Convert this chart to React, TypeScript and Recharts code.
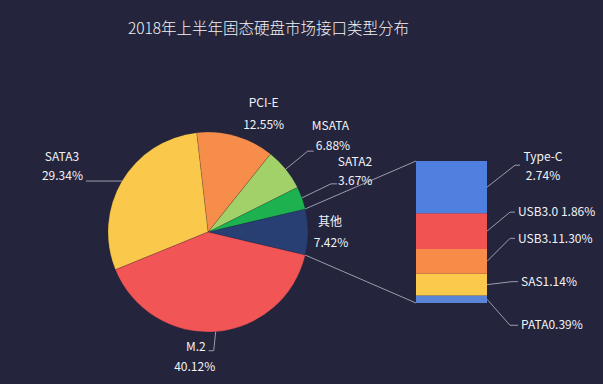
import { PieChart, Pie, Cell, BarChart, Bar, XAxis, YAxis } from 'recharts';

// main pie
const pieNames = ['其他', 'SATA2', 'MSATA', 'PCI-E', 'SATA3', 'M.2'];
const pieValues = [7.42, 3.67, 6.88, 12.55, 29.34, 40.12];
const pieColors = ['#283f74', '#1db24f', '#a2d169', '#f78d4a', '#fac84b', '#f15555'];

// breakdown of 其他
const barNames = ['Type-C', 'USB3.0', 'USB3.1', 'SAS', 'PATA'];
const barValues = [2.74, 1.86, 1.3, 1.14, 0.39];
const barColors = ['#4f7fdf', '#f15353', '#f78b47', '#fbc94b', '#5a84d8'];
const barSeparators = ['\n', ' ', '', '', ''];

const BG = '#24253c';
const TEXT = '#f2f2f6';
const LINE = '#9a9cad';
const FONT = '"Noto Sans CJK SC", "Noto Sans", sans-serif';

const pieData = pieNames.map((name, i) => ({ name, value: pieValues[i] }));
const barRow: Record<string, number | string> = { name: '其他' };
barNames.forEach((n, i) => (barRow[n] = barValues[i]));
const barTotal = barValues.reduce((a, b) => a + b, 0);

const PIE_CX = 208;
const PIE_CY = 232;
const PIE_R = 100;
const otherShare = pieValues[0] / pieValues.reduce((a, b) => a + b, 0);
const START = -otherShare * 180;

// bar box
const BAR_LEFT = 400;
const BAR_TOP = 140;
const BAR_W = 203;
const BAR_H = 200;
const BAR_MARGIN = { top: 21, right: 116, bottom: 37, left: 16 };
const plotX = BAR_LEFT + BAR_MARGIN.left;
const plotTop = BAR_TOP + BAR_MARGIN.top;
const plotBottom = BAR_TOP + BAR_H - BAR_MARGIN.bottom;

type Anchor = 'start' | 'middle' | 'end';
// offsets relative to the slice's outer mid point
const pieLabelLayout: Record<string, { line?: number[][]; name: [number, number, Anchor]; pct: [number, number, Anchor] }> = {
  '其他': { name: [22, -10, 'middle'], pct: [23, 11, 'middle'] },
  SATA2: { line: [[29, -14], [35, -14]], name: [53, -36, 'middle'], pct: [36, -17, 'start'] },
  MSATA: { line: [[22, -18], [28, -18]], name: [26, -43, 'start'], pct: [30, -23, 'start'] },
  'PCI-E': { name: [28, -33, 'middle'], pct: [28, -11, 'middle'] },
  SATA3: { line: [[-36, 0]], name: [-60, -24, 'middle'], pct: [-39, -5, 'end'] },
  'M.2': { line: [[-2, 19], [-7, 19]], name: [-10, 15, 'end'], pct: [-21, 35, 'middle'] },
};

const rad = Math.PI / 180;

const renderPieLabel = (props: any) => {
  const { cx, cy, midAngle, outerRadius, name, value, percent } = props;
  const lay = pieLabelLayout[name];
  const px = cx + outerRadius * Math.cos(-midAngle * rad);
  const py = cy + outerRadius * Math.sin(-midAngle * rad);
  const pts = [[px, py], ...(lay.line || []).map(([dx, dy]) => [px + dx, py + dy])];
  const extra: any[] = [];
  if (name === pieNames[0]) {
    const half = percent * 180;
    const a1 = midAngle + half;
    const a2 = midAngle - half;
    const t = [cx + outerRadius * Math.cos(-a1 * rad), cy + outerRadius * Math.sin(-a1 * rad)];
    const b = [cx + outerRadius * Math.cos(-a2 * rad), cy + outerRadius * Math.sin(-a2 * rad)];
    extra.push(<line key="t" x1={t[0]} y1={t[1]} x2={plotX} y2={plotTop} stroke={LINE} strokeWidth={1} />);
    extra.push(<line key="b" x1={b[0]} y1={b[1]} x2={plotX} y2={plotBottom} stroke={LINE} strokeWidth={1} />);
  }
  return (
    <g>
      {extra}
      {lay.line && (
        <polyline points={pts.map((p) => p.join(',')).join(' ')} fill="none" stroke={LINE} strokeWidth={1} />
      )}
      <text x={px + lay.name[0]} y={py + lay.name[1]} dy="0.35em" textAnchor={lay.name[2]} fill={TEXT} fontSize={12} fontFamily={FONT}>
        {name}
      </text>
      <text x={px + lay.pct[0]} y={py + lay.pct[1]} dy="0.35em" textAnchor={lay.pct[2]} fill={TEXT} fontSize={12} fontFamily={FONT}>
        {value.toFixed(2)}%
      </text>
    </g>
  );
};

// elbow offsets from segment right-middle
const barLabelLayout: Record<string, { elbow: [number, number]; end: number }> = {
  'Type-C': { elbow: [28, -22], end: 33 },
  'USB3.0': { elbow: [23, -19], end: 28 },
  'USB3.1': { elbow: [23, -23], end: 28 },
  SAS: { elbow: [25, -3], end: 31 },
  PATA: { elbow: [23, 26], end: 31 },
};

const makeBarLabel = (i: number) => (props: any) => {
  const { x, y, width, height } = props;
  const name = barNames[i];
  const lay = barLabelLayout[name];
  const sx = x + width;
  const sy = y + height / 2;
  const ex = sx + lay.elbow[0];
  const ey = sy + lay.elbow[1];
  const lines = (name + barSeparators[i] + barValues[i].toFixed(2) + '%').split('\n');
  const tx = sx + lay.end + 3;
  return (
    <g>
      <polyline points={`${sx},${sy} ${ex},${ey} ${sx + lay.end},${ey}`} fill="none" stroke={LINE} strokeWidth={1} />
      {lines.length === 1 ? (
        <text x={tx} y={ey} dy="0.35em" fill={TEXT} fontSize={12} fontFamily={FONT}>
          {lines[0]}
        </text>
      ) : (
        <>
          <text x={tx + 20} y={ey - 8} dy="0.35em" textAnchor="middle" fill={TEXT} fontSize={12} fontFamily={FONT}>
            {lines[0]}
          </text>
          <text x={tx + 20} y={ey + 11} dy="0.35em" textAnchor="middle" fill={TEXT} fontSize={12} fontFamily={FONT}>
            {lines[1]}
          </text>
        </>
      )}
    </g>
  );
};

// stack bottom-up
const stackOrder = barNames.map((_, i) => i).reverse();

export default function App() {
  return (
    <div style={{ position: 'absolute', left: 0, top: 0, width: 603, height: 384, background: BG, overflow: 'hidden' }}>
      <div
        style={{
          position: 'absolute',
          left: 0,
          top: 16,
          width: 537,
          textAlign: 'center',
          color: TEXT,
          fontFamily: FONT,
          fontSize: 15.5,
          fontWeight: 300,
        }}
      >
        2018年上半年固态硬盘市场接口类型分布
      </div>
      <div style={{ position: 'absolute', left: 0, top: 0 }}>
        <PieChart width={603} height={384} margin={{ top: 0, right: 0, bottom: 0, left: 0 }}>
          <Pie
            data={pieData}
            dataKey="value"
            nameKey="name"
            cx={PIE_CX}
            cy={PIE_CY}
            outerRadius={PIE_R}
            startAngle={START}
            endAngle={START + 360}
            stroke="rgba(20,20,40,0.18)"
            strokeWidth={1}
            label={renderPieLabel}
            labelLine={false}
            isAnimationActive={false}
          >
            {pieData.map((d, i) => (
              <Cell key={d.name} fill={pieColors[i]} />
            ))}
          </Pie>
        </PieChart>
      </div>
      <div style={{ position: 'absolute', left: BAR_LEFT, top: BAR_TOP }}>
        <BarChart width={BAR_W} height={BAR_H} data={[barRow]} margin={BAR_MARGIN} barCategoryGap={0}>
          <XAxis dataKey="name" hide />
          <YAxis hide domain={[0, barTotal]} />
          {stackOrder.map((i) => (
            <Bar
              key={barNames[i]}
              dataKey={barNames[i]}
              stackId="s"
              fill={barColors[i]}
              label={makeBarLabel(i)}
              isAnimationActive={false}
            />
          ))}
        </BarChart>
      </div>
    </div>
  );
}
